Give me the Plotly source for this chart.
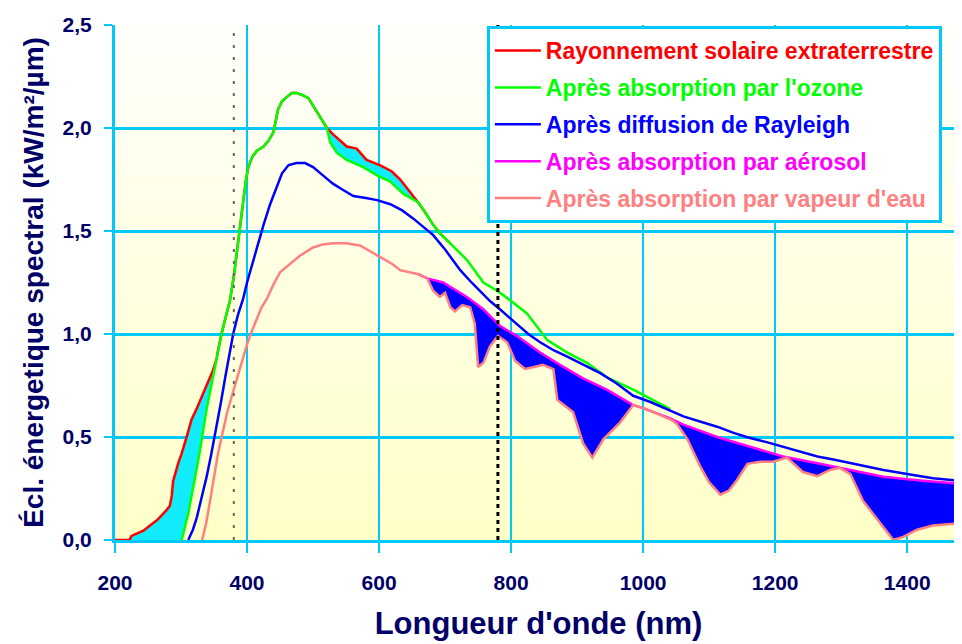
import plotly.graph_objects as go

# Valeurs : longueur d'onde (nm) / éclairement (kW/m²/µm)
red_x = [200, 222, 225, 243, 253, 265, 278, 283, 286, 288, 296, 301, 309, 316, 324, 332, 339, 348, 354, 356,
         362, 369, 374, 380, 385, 390, 394, 398, 402, 408, 415, 425, 433, 440, 447, 453, 460, 468, 475, 484,
         493, 506, 515, 521, 530, 551, 566, 581, 601, 619, 632, 647, 659, 670, 682, 692, 708]
red_y = [0, 0, 0.02, 0.045, 0.07, 0.10, 0.145, 0.165, 0.215, 0.285, 0.375, 0.42, 0.505, 0.585, 0.64, 0.70, 0.76, 0.82, 0.88, 0.92,
         1.01, 1.10, 1.16, 1.28, 1.41, 1.55, 1.65, 1.74, 1.81, 1.86, 1.89, 1.91, 1.94, 1.98, 2.09, 2.13, 2.15, 2.17, 2.17, 2.16,
         2.145, 2.08, 2.03, 2.0, 1.97, 1.91, 1.90, 1.845, 1.82, 1.79, 1.75, 1.69, 1.64, 1.59, 1.53, 1.49, 1.44]

green_x = [301, 311, 321, 329, 339, 348, 354, 356, 362, 369, 374, 380, 385, 390, 394, 398, 402, 408, 415, 425,
           433, 440, 447, 453, 460, 468, 475, 484, 493, 506, 515, 521, 526, 536, 551, 576, 597, 617, 637, 652,
           659, 670, 682, 692, 708, 718, 733, 758, 779, 798, 824, 855, 885, 915, 945, 985, 1015, 1041]
green_y = [0, 0.13, 0.30, 0.44, 0.64, 0.79, 0.88, 0.92, 1.01, 1.10, 1.16, 1.28, 1.41, 1.55, 1.65, 1.74, 1.81, 1.86, 1.89, 1.91,
           1.94, 1.98, 2.09, 2.13, 2.15, 2.17, 2.17, 2.16, 2.145, 2.08, 2.03, 2.0, 1.93, 1.88, 1.845, 1.81, 1.77, 1.74, 1.68, 1.65,
           1.64, 1.59, 1.53, 1.49, 1.44, 1.41, 1.36, 1.25, 1.21, 1.165, 1.10, 0.97, 0.91, 0.86, 0.79, 0.73, 0.68, 0.635]

blue_x = [311, 318, 324, 332, 339, 346, 352, 360, 367, 373, 379, 386, 394, 400, 408, 415, 425, 435, 444, 453,
          463, 475, 488, 500, 515, 530, 545, 561, 580, 597, 617, 635, 652, 667, 682, 700, 723, 740, 753, 768,
          783, 809, 826, 844, 865, 885, 910, 935, 960, 985, 1011, 1036, 1061, 1086, 1112, 1137, 1162, 1187, 1212, 1237,
          1264, 1290, 1314, 1340, 1364, 1400, 1439, 1490]
blue_y = [0, 0.05, 0.11, 0.21, 0.31, 0.42, 0.52, 0.66, 0.79, 0.90, 1.0, 1.09, 1.17, 1.25, 1.34, 1.42, 1.53, 1.63, 1.71, 1.78,
          1.82, 1.83, 1.83, 1.81, 1.77, 1.73, 1.70, 1.67, 1.66, 1.65, 1.63, 1.60, 1.56, 1.52, 1.48, 1.41, 1.31, 1.25, 1.21, 1.16,
          1.12, 1.05, 1.00, 0.96, 0.92, 0.89, 0.85, 0.81, 0.76, 0.70, 0.67, 0.635, 0.60, 0.575, 0.55, 0.52, 0.495, 0.475, 0.453, 0.43,
          0.405, 0.39, 0.373, 0.355, 0.34, 0.32, 0.30, 0.285]

magenta_x = [660, 673, 697, 733, 758, 783, 809, 844, 874, 909, 945, 985, 1000, 1020, 1041, 1061, 1112, 1162, 1212, 1264,
             1314, 1364, 1415, 1490]
magenta_y = [1.29, 1.27, 1.25, 1.18, 1.12, 1.04, 0.99, 0.91, 0.85, 0.785, 0.73, 0.655, 0.64, 0.615, 0.59, 0.56, 0.50, 0.453, 0.405, 0.373,
             0.34, 0.307, 0.29, 0.27]

salmon_x = [332, 338, 344, 350, 356, 363, 370, 378, 385, 392, 400, 408, 415, 422, 430, 440, 450, 465, 480, 500,
            515, 530, 550, 571, 587, 602, 620, 632, 647, 660, 673, 682, 692, 700, 708, 715, 726, 738, 745, 750,
            758, 768, 780, 794, 806, 821, 835, 848, 864, 870, 882, 894, 909, 923, 940, 965, 985, 1000, 1020, 1036,
            1045, 1052, 1067, 1086, 1100, 1117, 1130, 1142, 1158, 1177, 1197, 1218, 1242, 1264, 1283, 1298, 1314, 1333, 1359, 1379,
            1394, 1415, 1439, 1490]
salmon_y = [0, 0.08, 0.19, 0.31, 0.42, 0.52, 0.62, 0.71, 0.79, 0.87, 0.95, 1.02, 1.08, 1.13, 1.17, 1.24, 1.30, 1.34, 1.38, 1.42,
            1.435, 1.44, 1.44, 1.43, 1.40, 1.37, 1.34, 1.31, 1.30, 1.29, 1.27, 1.21, 1.18, 1.20, 1.13, 1.11, 1.14, 1.13, 1.05, 0.84,
            0.86, 0.94, 0.99, 0.96, 0.87, 0.83, 0.84, 0.85, 0.83, 0.68, 0.65, 0.62, 0.47, 0.40, 0.49, 0.57, 0.655, 0.64, 0.615, 0.595,
            0.58, 0.56, 0.49, 0.36, 0.28, 0.22, 0.24, 0.29, 0.37, 0.38, 0.38, 0.40, 0.33, 0.31, 0.34, 0.35, 0.32, 0.19, 0.08, 0.0,
            0.015, 0.05, 0.07, 0.085]

# limites du visible
visible_limits = [380, 780]

FONT = "Liberation Sans, Arial, sans-serif"
NAVY = "#000066"
GRID = "#00c8f8"


def segment(xs, ys, lo, hi):
    pts = [(x, y) for x, y in zip(xs, ys) if lo <= x <= hi]
    return [p[0] for p in pts], [p[1] for p in pts]


def band(upper, lower, lo, hi, color):
    # zone remplie entre deux courbes (contour aller puis retour)
    ux, uy = segment(upper[0], upper[1], lo, hi)
    lx, ly = segment(lower[0], lower[1], lo, hi)
    return go.Scatter(x=ux + lx[::-1], y=uy + ly[::-1], fill="toself", fillcolor=color,
                      mode="none", showlegend=False, hoverinfo="skip")


fig = go.Figure()

# absorptions (zones colorées)
fig.add_trace(band((red_x, red_y), (green_x, green_y), 200, 354, "#10ecfa"))
fig.add_trace(band((red_x, red_y), (green_x, green_y), 521, 659, "#10ecfa"))
fig.add_trace(band((magenta_x, magenta_y), (salmon_x, salmon_y), 673, 1500, "#0000ff"))

series = [
    ("Rayonnement solaire extraterrestre", red_x, red_y, "#ff0000"),
    ("Après absorption par l'ozone", green_x, green_y, "#00ff00"),
    ("Après diffusion de Rayleigh", blue_x, blue_y, "#0000ff"),
    ("Après absorption par aérosol", magenta_x, magenta_y, "#ff00ff"),
    ("Après absorption par vapeur d'eau", salmon_x, salmon_y, "#ff8080"),
]
for name, xs, ys, color in series:
    fig.add_trace(go.Scatter(
        x=xs, y=ys, mode="lines", line=dict(color=color, width=2.5),
        name=f"<b><span style='color:{color}'>{name}</span></b>", legendgroup=name,
    ))

# fond dégradé blanc -> jaune pâle
n = 60
for i in range(n):
    t = (i + 0.5) / n
    b = int(round(200 + 52 * t))
    fig.add_shape(type="rect", xref="x domain", yref="y domain", x0=0, x1=1,
                  y0=i / n, y1=(i + 1) / n, fillcolor=f"rgb(255,255,{b})",
                  line=dict(width=0), layer="below")

fig.add_shape(type="line", x0=visible_limits[0], x1=visible_limits[0], y0=0, y1=2.5,
              line=dict(color="#666666", width=2, dash="3px,9px"))
fig.add_shape(type="line", x0=visible_limits[1], x1=visible_limits[1], y0=0, y1=2.5,
              line=dict(color="#000000", width=3, dash="4px,4px"))

# la page ajoute 8 px de marge autour de la figure
fig.update_layout(
    width=954, height=636,
    margin=dict(l=107, r=0, t=17, b=104),
    paper_bgcolor="white", plot_bgcolor="#ffffe0",
    separators=", ",
    font=dict(family=FONT, color=NAVY),
    legend=dict(
        x=0.439, y=0.998, xanchor="left", yanchor="top",
        bgcolor="white", bordercolor=GRID, borderwidth=3,
        font=dict(family=FONT, size=23), tracegroupgap=4,
        traceorder="grouped", itemwidth=46,
    ),
)
fig.update_xaxes(
    range=[200, 1483], tickmode="linear", tick0=200, dtick=200,
    showgrid=True, gridcolor=GRID, gridwidth=2, zeroline=False,
    showline=True, linecolor=GRID, linewidth=3, automargin=False,
    ticks="outside", ticklen=10, tickwidth=2, tickcolor=GRID,
    tickfont=dict(family=FONT, size=21, color=NAVY, weight="bold"),
    ticklabelstandoff=12,
    title=dict(text="<b>Longueur d'onde (nm)</b>", font=dict(family=FONT, size=31, color=NAVY), standoff=20),
)
fig.update_yaxes(
    range=[0, 2.5], tickmode="linear", tick0=0, dtick=0.5, tickformat=".1f",
    showgrid=True, gridcolor=GRID, gridwidth=3, zeroline=False,
    showline=True, linecolor=GRID, linewidth=3, automargin=False,
    ticks="outside", ticklen=8, tickwidth=2, tickcolor=GRID,
    tickfont=dict(family=FONT, size=21, color=NAVY, weight="bold"),
    ticklabelstandoff=8,
    title=dict(text="<b>Écl. énergetique spectral (kW/m²/µm)</b>", font=dict(family=FONT, size=28, color=NAVY), standoff=11),
)

fig.write_html("out.html")
